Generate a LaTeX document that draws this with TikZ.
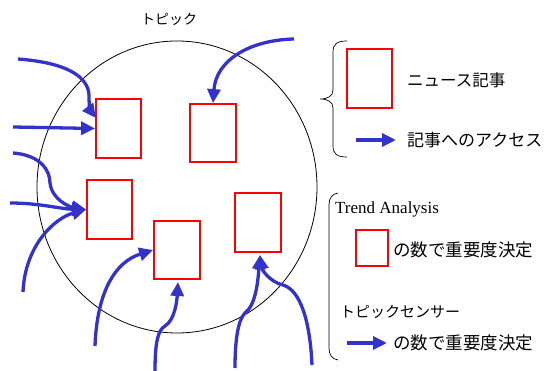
\documentclass[tikz,border=0pt]{standalone}
\usepackage{fontspec}
\setmainfont{Liberation Serif}
\newfontfamily\jp{Noto Sans CJK JP}
\usetikzlibrary{arrows.meta}
\definecolor{accblue}{RGB}{51,51,204}
\tikzset{
  rbox/.style={draw=red,line width=1.8pt,inner sep=0pt,minimum width=45pt,minimum height=59pt},
  acc/.style={draw=accblue,line width=3.3pt,-{Triangle[length=14pt,width=13pt]}},
  jtxt/.style={font=\jp\fontsize{16.5pt}{18pt}\selectfont,anchor=west,inner sep=0pt},
  brace/.style={draw=black,line width=0.7pt}
}
\begin{document}
\begin{tikzpicture}[x=1pt,y=-1pt]
\useasboundingbox (0,0) rectangle (544,371);
% topic circle
\draw[line width=0.8pt] (177,187) ellipse [x radius=140, y radius=146];
\node[font=\jp\fontsize{14pt}{16pt}\selectfont,inner sep=0pt] (title) at (169,19) {トピック};
% article boxes
\node[rbox] (b1) at (118.5,128.5) {};
\node[rbox,minimum width=46pt,minimum height=58pt] (b2) at (213,133) {};
\node[rbox] (b3) at (109.5,209.5) {};
\node[rbox,minimum width=46pt,minimum height=58pt] (b4) at (177,250) {};
\node[rbox,minimum width=46pt] (b5) at (258,222.5) {};
% arrow start points
\coordinate (s1) at (18,59);
\coordinate (s2) at (13,127);
\coordinate (s3) at (294,39);
\coordinate (s4) at (13,153);
\coordinate (s5) at (10,203);
\coordinate (s6) at (23,292);
\coordinate (s7) at (95,346);
\coordinate (s8) at (155,371);
\coordinate (s9) at (235,368);
\coordinate (s10) at (312,365);
\coordinate (t1) at (96,118);
\coordinate (t8) at (178,282);
\coordinate (t9) at (260,255);
% access arrows
\draw[acc] (s1) .. controls (70,63) and (88,78) .. (89,95) .. controls (89,105) and (90,110) .. (t1);
\draw[acc] (s2) -- (b1.west);
\draw[acc] (s3) .. controls (250,40) and (216,60) .. (b2.north);
\draw[acc] (s4) .. controls (40,155) and (50,170) .. (50,183) .. controls (52,200) and (70,207) .. (b3.west);
\draw[acc] (s5) .. controls (40,203) and (60,209) .. (b3.west);
\draw[acc] (s6) .. controls (25,245) and (55,218) .. (b3.west);
\draw[acc] (s7) .. controls (97,292) and (115,262) .. (b4.west);
\draw[acc] (s8) .. controls (155,342) and (158,330) .. (165,326) .. controls (175,320) and (177,300) .. (t8);
\draw[acc] (s9) .. controls (235,340) and (238,320) .. (245,313) .. controls (256,305) and (258,280) .. (t9);
\draw[acc] (s10) .. controls (310,320) and (300,290) .. (283,285) .. controls (270,282) and (262,270) .. (t9);
% legend 1
\draw[brace] (347,41) .. controls (337,41) and (333,44) .. (333,52) -- (333,90) .. controls (333,96) and (328,99) .. (320,99)
  .. controls (328,99) and (333,102) .. (333,108) -- (333,146) .. controls (333,154) and (337,157) .. (347,157);
\node[rbox] (lb1) at (369.5,78.5) {};
\node[jtxt] (lt1) at (407,80) {ニュース記事};
\coordinate (la1) at (356,140);
\node[jtxt,font=\jp\fontsize{17pt}{19pt}\selectfont] (lt2) at (407,140) {記事へのアクセス};
\draw[acc] (la1) -- ([xshift=-11pt]lt2.west);
% legend 2
\draw[brace] (338,193) .. controls (332,194) and (329,198) .. (329,205) -- (329,348) .. controls (329,355) and (332,359) .. (338,360);
\node[anchor=west,inner sep=0pt,font=\fontsize{17pt}{19pt}\selectfont] (ta) at (335,209) {Trend Analysis};
\node[rbox,minimum width=32pt,minimum height=36pt] (lb2) at (372,248) {};
\node[jtxt,font=\jp\fontsize{17.5pt}{19pt}\selectfont] (lt3) at (393,250) {の数で重要度決定};
\node[jtxt,font=\jp\fontsize{15pt}{17pt}\selectfont] (lt4) at (340,312) {トピックセンサー};
\coordinate (la2) at (347,343);
\node[jtxt,font=\jp\fontsize{17.5pt}{19pt}\selectfont] (lt5) at (393,343) {の数で重要度決定};
\draw[acc] (la2) -- ([xshift=-6pt]lt5.west);
\end{tikzpicture}
\end{document}
